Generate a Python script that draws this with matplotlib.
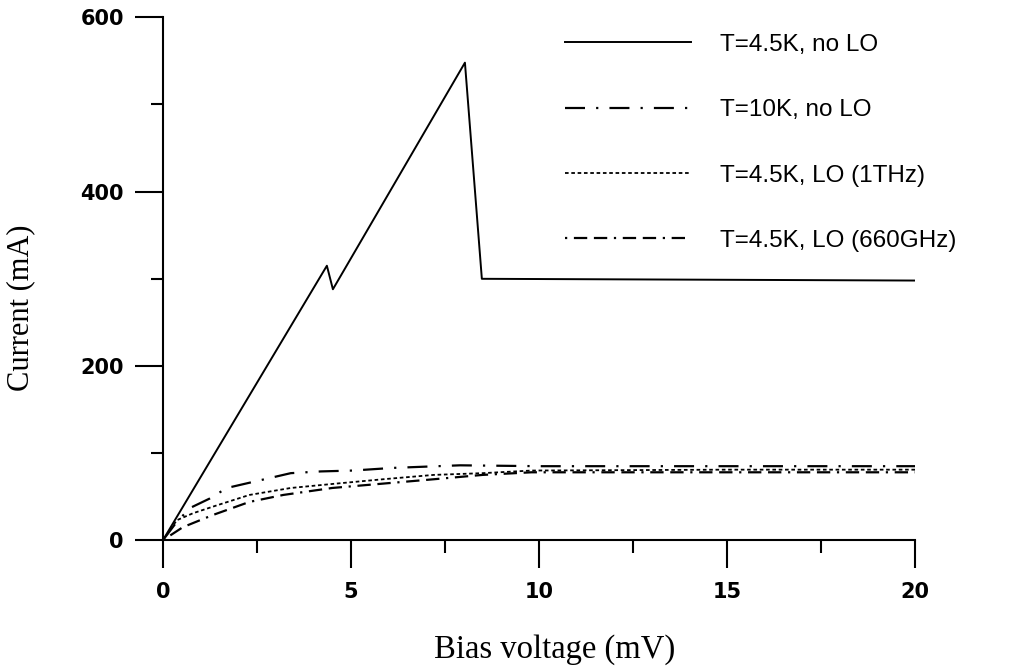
"""
I-V curves: current vs bias voltage for several temperatures / LO conditions
"""
import matplotlib
matplotlib.use("Agg")
import matplotlib.pyplot as plt
from matplotlib.ticker import MultipleLocator


# Data
v_45_nolo = [0, 4.36, 4.52, 8.03, 8.48, 20]
i_45_nolo = [0, 315, 288, 548, 300, 298]

v_10_nolo = [0, 0.35, 0.72, 1.25, 1.7, 2.5, 3.4, 4.2, 5.05, 6.1, 7.9, 10, 15, 20]
i_10_nolo = [0, 20, 37, 48, 60, 68, 77, 79, 80, 83, 86, 85, 85, 85]

v_45_1thz = [0, 0.37, 0.8, 1.43, 2.3, 3.4, 4.6, 5.85, 7.2, 8.5, 9.8, 15, 20]
i_45_1thz = [0, 23, 31, 40, 52, 60, 65, 70, 75, 77, 80, 81, 81]

v_45_660 = [0, 0.53, 1.33, 2.3, 3.2, 4.5, 5.85, 7.2, 8.5, 9.8, 15, 20]
i_45_660 = [0, 15, 29, 44, 52, 60, 65, 70, 75, 78, 78, 78]

labels = ["T=4.5K, no LO", "T=10K, no LO", "T=4.5K, LO (1THz)", "T=4.5K, LO (660GHz)"]
x_ticks = [0, 5, 10, 15, 20]
y_ticks = [0, 200, 400, 600]


def main():
    fig = plt.figure(figsize=(10.18, 6.67), dpi=100)
    ax = fig.add_axes([0.160, 0.190, 0.739, 0.784])

    ax.plot(v_45_nolo, i_45_nolo, color="black", lw=1.4, label=labels[0])
    ax.plot(v_10_nolo, i_10_nolo, color="black", lw=1.6, dashes=(9, 5, 1, 5), label=labels[1])
    ax.plot(v_45_1thz, i_45_1thz, color="black", lw=1.3, dashes=(2, 1.5), label=labels[2])
    ax.plot(v_45_660, i_45_660, color="black", lw=1.6, dashes=(1, 3, 6, 3, 6, 3), label=labels[3])

    ax.set_xlim(0, 20)
    ax.set_ylim(0, 600)
    for side in ["top", "right"]:
        ax.spines[side].set_visible(False)
    for side in ["left", "bottom"]:
        ax.spines[side].set_linewidth(1.5)

    ax.set_xticks(x_ticks)
    ax.set_yticks(y_ticks)
    ax.xaxis.set_minor_locator(MultipleLocator(2.5))
    ax.yaxis.set_minor_locator(MultipleLocator(100))
    ax.tick_params(which="major", direction="out", length=20, width=1.5)
    ax.tick_params(which="minor", direction="out", length=9, width=1.5)
    ax.tick_params(axis="x", which="major", pad=10)
    ax.tick_params(axis="y", which="major", pad=8)
    for lab in ax.get_xticklabels() + ax.get_yticklabels():
        lab.set_fontweight("bold")
        lab.set_fontsize(15)

    ax.set_xlabel("Bias voltage (mV)", family="Liberation Serif", fontsize=23.5)
    ax.set_ylabel("Current (mA)", family="Liberation Serif", fontsize=22)
    ax.xaxis.set_label_coords(0.521, -0.18)
    ax.yaxis.set_label_coords(-0.17, 0.445)

    ax.legend(loc="upper left", bbox_to_anchor=(0.505, 1.01), frameon=False,
              prop={"family": "Liberation Sans", "size": 17.5},
              handlelength=5.2, handletextpad=1.2, labelspacing=1.78)

    fig.savefig("out.png", dpi=100)
    plt.close(fig)


if __name__ == "__main__":
    main()
